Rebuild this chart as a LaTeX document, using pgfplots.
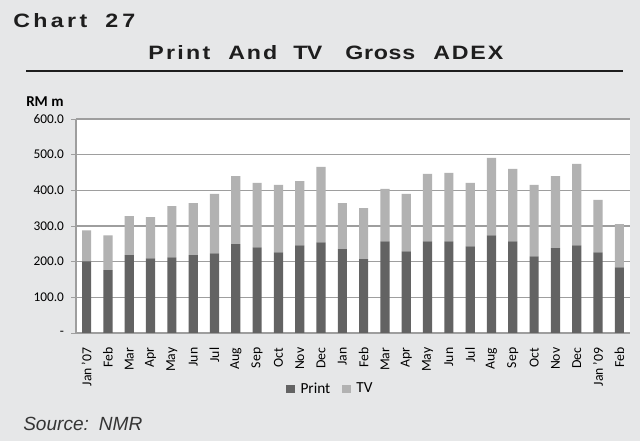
\documentclass[border=0pt]{standalone}
\usepackage{pgfplots}
\pgfplotsset{compat=1.18}
\usepackage{pgfplotstable}
\usepackage{fontspec}
\setmainfont{Carlito}
\newfontfamily\arial{Liberation Sans}
\newfontfamily\arialw[FakeStretch=1.2]{Liberation Sans Bold}
\definecolor{bg}{HTML}{E6E7E8}
\definecolor{printc}{HTML}{636363}
\definecolor{tvc}{HTML}{B2B2B2}
\definecolor{gridc}{HTML}{9E9E9E}
\definecolor{titlec}{HTML}{1E1E1E}
\newdimen\pxu \pxu=0.75pt
\def\g{\hspace{0pt plus 1fill minus 4pt}}
% word placed at left edge x (px), baseline y (px from top), width w (px)
\newcommand\tword[4]{\node[anchor=base west, inner sep=0pt, text=titlec, font=\arialw\fontsize{14.5}{16}\selectfont] at (#1,441-#2) {\makebox[#3\pxu][s]{#4}};}

\pgfplotstableread{
x print tv
0 201 87
1 176 98
2 218 110
3 209 116
4 212 144
5 218 146
6 223 167
7 249 191
8 240 181
9 226 189
10 246 180
11 254 212
12 235 129
13 207 143
14 257 147
15 229 161
16 257 189
17 257 192
18 243 178
19 274 217
20 257 203
21 215 200
22 238 202
23 246 228
24 226 147
25 184 121
}\data

\begin{document}
\begin{tikzpicture}
\begin{scope}[x=0.75pt,y=0.75pt]
\fill[bg] (0,0) rectangle (640,441);
\useasboundingbox (0,0) rectangle (640,441);
\coordinate (AX) at (76,108);
\tword{13}{28}{74}{C\g h\g a\g r\g t}
\tword{105}{28}{30}{2\g 7}
\tword{148}{60}{62}{P\g r\g i\g n\g t}
\tword{228}{60}{49}{A\g n\g d}
\tword{293}{60}{29}{T\g V}
\tword{345}{60}{70}{G\g r\g o\g s\g s}
\tword{433}{60}{70}{A\g D\g E\g X}
\draw[titlec, line width=1.9pt] (26,441-71) -- (623,441-71);
\node[anchor=base west, inner sep=0pt, text=black, font=\bfseries\fontsize{11.3}{13}\selectfont] at (26,441-107) {RM m};
\node[anchor=base west, inner sep=0pt, text=titlec!90, font=\arial\itshape\fontsize{14.3}{16}\selectfont] at (23,441-431) {Source:\hspace{7.5pt}NMR};
\end{scope}
\begin{axis}[
  at={(AX)}, anchor=south west, scale only axis,
  width=415.5pt, height=160.5pt,
  ybar stacked, bar width=0.43,
  xmin=-0.5, xmax=25.5, ymin=0, ymax=600,
  axis background/.style={fill=white},
  axis x line*=bottom, axis y line*=left,
  axis line style={gridc, line width=0.8pt},
  ytick={0,100,...,600},
  yticklabels={-\hspace{11pt},100.0,200.0,300.0,400.0,500.0,600.0},
  ymajorgrids, grid style={gridc, line width=0.8pt},
  y tick style={gridc, line width=0.6pt},
  tick align=outside, major tick length=3.5pt,
  y tick label style={font=\fontsize{10}{12}\selectfont, xshift=-2pt},
  xtick={0,...,25},
  xticklabels={Jan '07,Feb,Mar,Apr,May,Jun,Jul,Aug,Sep,Oct,Nov,Dec,Jan,Feb,Mar,Apr,May,Jun,Jul,Aug,Sep,Oct,Nov,Dec,Jan '09,Feb},
  x tick label style={rotate=90, anchor=east, font=\fontsize{10.3}{12}\selectfont, xshift=-4pt},
  x tick style={draw=none},
  extra x ticks={-0.5,0.5,...,25.5},
  extra x tick labels={},
  extra x tick style={grid=none, tick style={gridc, line width=0.6pt, draw=gridc}},
  legend style={at={(0.46,-0.262)}, anchor=center, draw=none, fill=none,
    legend columns=2, font=\fontsize{11.5}{13}\selectfont,
    /tikz/every odd column/.append style={column sep=2pt},
    /tikz/every even column/.append style={column sep=7pt}},
  legend image code/.code={\draw[#1,draw=none] (0pt,-3pt) rectangle (6.6pt,3pt);},
]
\addplot[fill=printc, draw=none] table[x=x,y=print]{\data};
\addplot[fill=tvc, draw=none] table[x=x,y=tv]{\data};
\legend{Print,TV}
\end{axis}
\end{tikzpicture}
\end{document}
